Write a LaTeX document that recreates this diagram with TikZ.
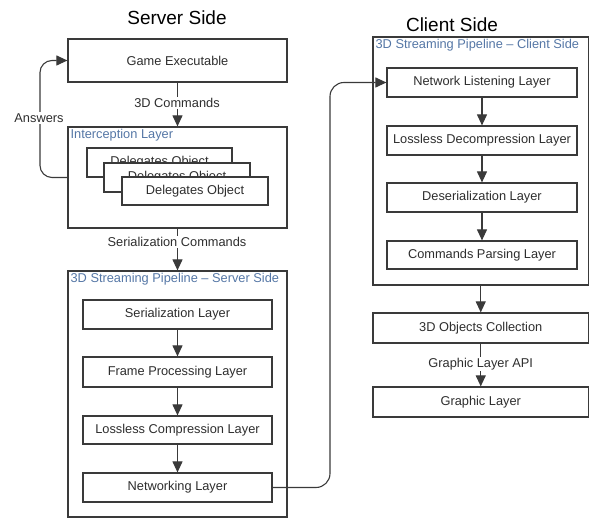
\documentclass[tikz,border=0pt]{standalone}
\usepackage{fontspec}
\setmainfont{Liberation Sans}
\usetikzlibrary{arrows.meta,calc}
\definecolor{linegray}{HTML}{3A3A3A}
\definecolor{textgray}{HTML}{2E2E2E}
\definecolor{titleblue}{HTML}{5577A6}
\tikzset{
  box/.style={draw=linegray, line width=1.2pt, fill=white, text=textgray,
    font=\fontsize{12.8}{15}\selectfont, inner sep=0pt},
  frame/.style={draw=linegray, line width=1.2pt, fill=white, inner sep=0pt},
  frametitle/.style={anchor=north west, text=titleblue, inner sep=1pt,
    font=\fontsize{12.8}{15}\selectfont},
  heading/.style={text=black, font=\fontsize{19}{22}\selectfont, inner sep=0pt},
  lbl/.style={fill=white, text=textgray, inner sep=1.5pt,
    font=\fontsize{12.8}{15}\selectfont},
  arr/.style={draw=linegray, line width=1.1pt,
    -{Triangle[length=11pt,width=10pt]}},
  link/.style={draw=linegray, line width=1.1pt}
}
\begin{document}
\begin{tikzpicture}[x=1pt,y=-1pt]
\useasboundingbox (0,0) rectangle (590,518);

% ---------------- server side ----------------
\node[heading] (stitle) at (177,18) {Server Side};

\node[box, minimum width=219pt, minimum height=43pt] (game) at (177.5,60.5) {Game Executable};

\node[frame, minimum width=219pt, minimum height=101pt] (inter) at (177.5,177.5) {};
\node[frametitle] (intertitle) at ($(inter.north west)+(2,2)$) {Interception Layer};
\node[box, minimum width=145pt, minimum height=29pt] (del1) at (159.5,162.5) {Delegates Object};
\node[box, minimum width=146pt, minimum height=29pt] (del2) at (177,177.5) {Delegates Object};
\node[box, minimum width=146pt, minimum height=28pt] (del3) at (195,191) {Delegates Object};

\node[frame, minimum width=219pt, minimum height=246pt] (spipe) at (177.5,394) {};
\node[frametitle] (spipetitle) at ($(spipe.north west)+(2,2)$) {3D Streaming Pipeline -- Server Side};
\node[box, minimum width=189pt, minimum height=29pt] (ser) at (177.5,314.5) {Serialization Layer};
\node[box, minimum width=189pt, minimum height=30pt] (fpl) at (177.5,372) {Frame Processing Layer};
\node[box, minimum width=189pt, minimum height=28pt] (comp) at (177.5,430) {Lossless Compression Layer};
\node[box, minimum width=189pt, minimum height=29pt] (net) at (177.5,487.5) {Networking Layer};

% ---------------- client side ----------------
\node[heading] (ctitle) at (452,25) {Client Side};

\node[frame, minimum width=215.5pt, minimum height=248pt] (cpipe) at (480.75,161) {};
\node[frametitle] (cpipetitle) at ($(cpipe.north west)+(2,2)$) {3D Streaming Pipeline -- Client Side};
\node[box, minimum width=190pt, minimum height=29pt] (nl) at (482,82.5) {Network Listening Layer};
\node[box, minimum width=190pt, minimum height=29pt] (ld) at (482,140.5) {Lossless Decompression Layer};
\node[box, minimum width=190pt, minimum height=29pt] (ds) at (482,197.5) {Deserialization Layer};
\node[box, minimum width=190pt, minimum height=28pt] (cp) at (482,255) {Commands Parsing Layer};

\node[box, minimum width=215.5pt, minimum height=30pt] (obj) at (480.75,328) {3D Objects Collection};
\node[box, minimum width=215.5pt, minimum height=30pt] (gl) at (480.75,402) {Graphic Layer};

% ---------------- connectors ----------------
\draw[arr] (game.south) -- (inter.north);
\node[lbl] (l3d) at (177,103) {3D Commands};

\coordinate (ansx) at (40,0);
\draw[arr, rounded corners=12pt] (inter.west) -| (ansx |- game.west) -- (game.west);
\node[lbl] (lans) at (39,118) {Answers};

\draw[arr] (inter.south) -- (spipe.north);
\node[lbl] (lser) at (177,242) {Serialization Commands};

\draw[arr] (ser) -- (fpl);
\draw[arr] (fpl) -- (comp);
\draw[arr] (comp) -- (net);

\coordinate (netx) at (330,0);
\draw[arr, rounded corners=14pt] (net.east) -| (netx |- nl.west) -- (nl.west);

\draw[arr] (nl) -- (ld);
\draw[arr] (ld) -- (ds);
\draw[arr] (ds) -- (cp);

\draw[arr] (cpipe.south -| obj.north) -- (obj.north);
\draw[arr] (obj.south) -- (gl.north);
\node[lbl] (lapi) at (480.75,364) {Graphic Layer API};
\end{tikzpicture}
\end{document}
